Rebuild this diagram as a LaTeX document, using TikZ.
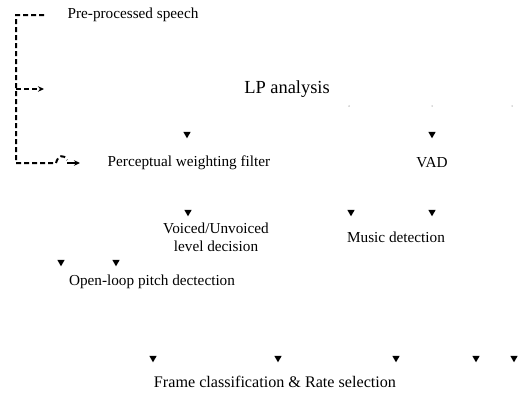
\documentclass[tikz,border=0pt]{standalone}
\usepackage{fontspec}
\setmainfont{Liberation Serif}
\usetikzlibrary{shapes.geometric,arrows.meta}
\tikzset{
  lbl/.style={inner sep=0pt, font=\fontsize{15.3}{18}\selectfont},
  big/.style={inner sep=0pt, font=\fontsize{18.5}{22}\selectfont},
  bigf/.style={inner sep=0pt, font=\fontsize{16.2}{19}\selectfont},
  tri/.style={regular polygon, regular polygon sides=3, shape border rotate=180, fill=black, inner sep=0pt, minimum size=8.5bp},
  dot/.style={circle, fill=gray!60, inner sep=0pt, minimum size=1.5bp},
  dsh/.style={line width=2bp, dash pattern=on 5bp off 3bp},
  tip/.style={-{Stealth[length=6bp,width=5.5bp]}}
}
\begin{document}
\begin{tikzpicture}[x=1bp,y=-1bp]
\useasboundingbox (0,0) rectangle (518,396);
% texts
\node[lbl] (pre) at (133,15) {Pre-processed speech};
\node[big] (lp) at (287,89) {LP analysis};
\node[lbl] (pwf) at (189,163) {Perceptual weighting filter};
\node[lbl] (vad) at (432,163) {VAD};
\node[lbl, align=center] (vuv) at (216,237) {Voiced/Unvoiced\\level decision};
\node[lbl] (mus) at (396,237) {Music detection};
\node[lbl] (olp) at (152,282) {Open-loop pitch dectection};
\node[bigf] (fcr) at (275,382) {Frame classification \& Rate selection};
% faint dots
\node[dot] (d1) at (349,106) {};
\node[dot] (d2) at (432,106) {};
\node[dot] (d3) at (512,106) {};
% arrowheads
\node[tri] (a1) at (187,134) {};
\node[tri] (a2) at (432,134) {};
\node[tri] (a3) at (188,212) {};
\node[tri] (a4) at (351,212) {};
\node[tri] (a5) at (432,212) {};
\node[tri] (a6) at (61,262) {};
\node[tri] (a7) at (116,262) {};
\node[tri] (a8) at (153,358) {};
\node[tri] (a9) at (278,358) {};
\node[tri] (a10) at (396,358) {};
\node[tri] (a11) at (476,358) {};
\node[tri] (a12) at (514,358) {};
% dashed bracket
\coordinate (top) at (44,15);
\coordinate (mid) at (44,89);
\coordinate (bot) at (80,163);
\draw[dsh] (top) -- (16,15) -- (16,163) -- (56,163) .. controls (58,155) and (64,154) .. (67,160);
\draw[dsh, tip] (16,89) -- (mid);
\draw[line width=2bp, tip] (67,163) -- (bot);
\end{tikzpicture}
\end{document}
